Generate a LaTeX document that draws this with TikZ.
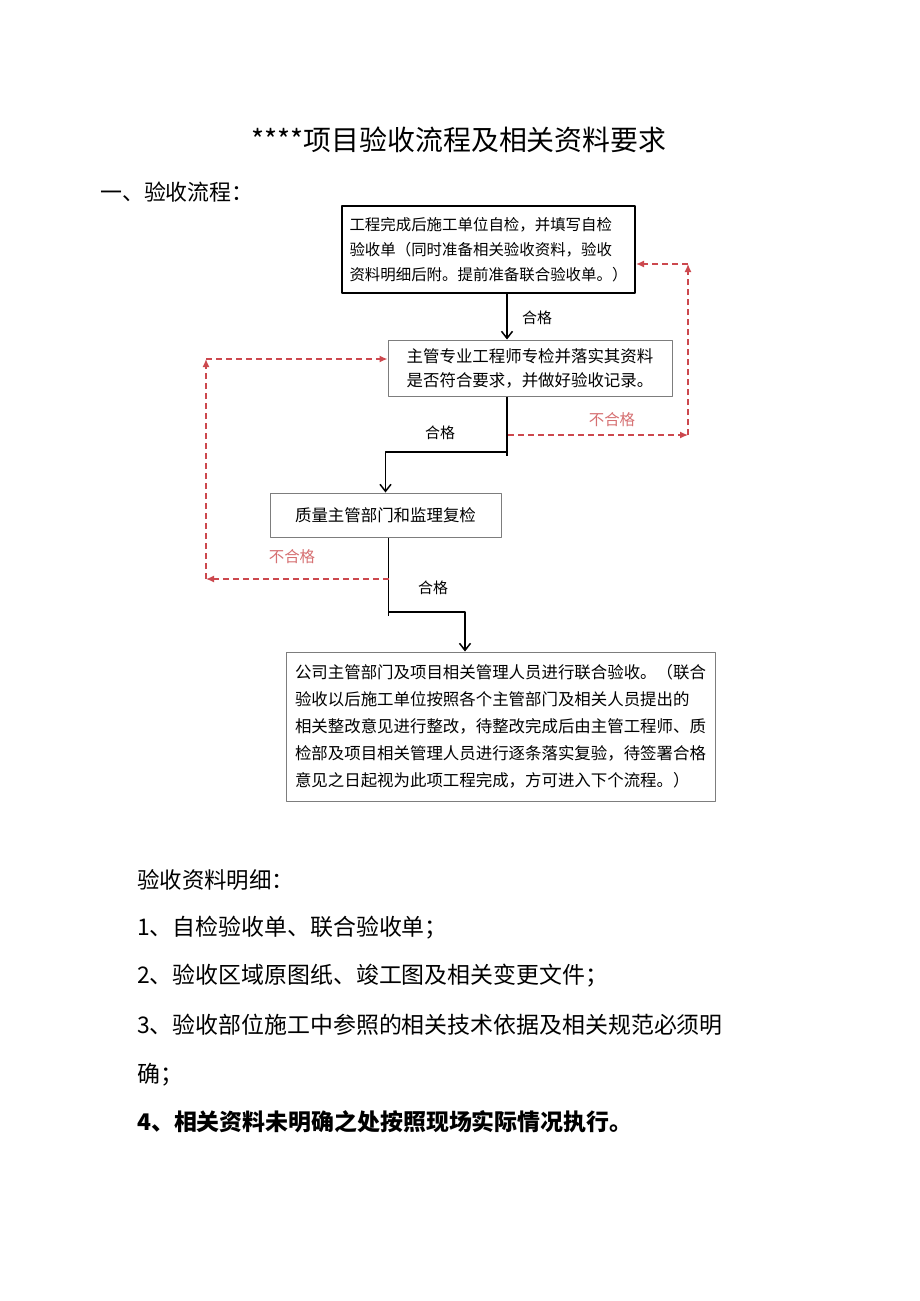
\documentclass[tikz,border=0pt]{standalone}
\usepackage{fontspec}
\setmainfont{Noto Sans CJK SC}
\usetikzlibrary{arrows.meta}
\definecolor{failred}{RGB}{204,72,78}
\definecolor{failtext}{RGB}{214,112,114}
\definecolor{boxgray}{RGB}{125,125,125}
\tikzset{
  stepbox/.style={draw=boxgray,line width=1bp,inner sep=0pt,align=left},
  passline/.style={black,line width=1.5bp},
  failline/.style={failred,line width=1.4bp,dash pattern=on 6bp off 4bp,-{Latex[length=8bp,width=7bp]}},
  passlabel/.style={font=\fontsize{15}{18}\selectfont},
  faillabel/.style={text=failtext,font=\fontsize{15.5}{18}\selectfont},
  listline/.style={anchor=west,inner sep=0pt,font=\fontsize{23}{26}\selectfont},
}
\begin{document}
\begin{tikzpicture}[>={Straight Barb[length=7bp,width=11bp]},line join=bevel,]
\useasboundingbox[fill=white] (0bp,0bp) rectangle (920bp,-1301bp);
%%
\node (title) at (459.0bp,-140.0bp) [font=\fontsize{28}{30}\selectfont] {****项目验收流程及相关资料要求};
\node (head_1) at (100.0bp,-192.0bp) [anchor=west,inner sep=0pt,font=\fontsize{22}{26}\selectfont] {一、验收流程：};
%
\node (node_1) at (488.5bp,-249.5bp) [stepbox,draw=black,line width=2bp,minimum width=293bp,minimum height=87bp,font=\fontsize{15.5}{25}\selectfont] {工程完成后施工单位自检，并填写自检\\验收单（同时准备相关验收资料，验收\\资料明细后附。提前准备联合验收单。）};
\node (node_2) at (530.0bp,-368.0bp) [stepbox,minimum width=284bp,minimum height=56bp,font=\fontsize{16.5}{24}\selectfont] {主管专业工程师专检并落实其资料\\是否符合要求，并做好验收记录。};
\node (node_3) at (385.5bp,-515.0bp) [stepbox,minimum width=231bp,minimum height=44bp,font=\fontsize{16.5}{20}\selectfont] {质量主管部门和监理复检};
\node (node_4) at (500.5bp,-726.5bp) [stepbox,minimum width=429bp,minimum height=149bp,font=\fontsize{16.5}{27}\selectfont] {公司主管部门及项目相关管理人员进行联合验收。（联合\\验收以后施工单位按照各个主管部门及相关人员提出的\\相关整改意见进行整改，待整改完成后由主管工程师、质\\检部及项目相关管理人员进行逐条落实复验，待签署合格\\意见之日起视为此项工程完成，方可进入下个流程。）};
%
\coordinate (x_main) at (507.0bp,0bp);
\coordinate (turn_1) at (507.0bp,-452.0bp);
\coordinate (x_low) at (388.5bp,0bp);
\coordinate (turn_2) at (388.5bp,-612.0bp);
\coordinate (x_end) at (465.0bp,0bp);
\coordinate (fail_r1) at (508.0bp,-435.0bp);
\coordinate (fail_r2) at (688.0bp,-435.0bp);
\coordinate (fail_r3) at (688.0bp,-264.0bp);
\coordinate (fail_l1) at (388.5bp,-579.0bp);
\coordinate (fail_l2) at (206.0bp,-579.0bp);
\coordinate (fail_l3) at (206.0bp,-359.0bp);
%
\draw [passline,->] (node_1.south -| x_main) -- (node_2.north -| x_main);
\draw [passline] (node_2.south -| x_main) -- ([yshift=-4bp]turn_1);
\draw [passline,->] (turn_1) -| (node_3.north);
\draw [passline] (node_3.south -| x_low) -- ([yshift=-4bp]turn_2);
\draw [passline,->] (turn_2) -| (node_4.north -| x_end);
%
\draw [failline] (fail_r1) -- (fail_r2);
\draw [failline] (fail_r2) -- (fail_r3);
\draw [failline] (fail_r3) -- (node_1.east |- fail_r3);
\draw [failline] (fail_l1) -- (fail_l2);
\draw [failline] (fail_l2) -- (fail_l3);
\draw [failline] (fail_l3) -- (node_2.west |- fail_l3);
%
\node (pass_1) at (537.0bp,-318.0bp) [passlabel] {合格};
\node (pass_2) at (440.0bp,-433.0bp) [passlabel] {合格};
\node (pass_3) at (433.0bp,-588.0bp) [passlabel] {合格};
\node (fail_1) at (612.0bp,-420.0bp) [faillabel] {不合格};
\node (fail_2) at (292.0bp,-557.0bp) [faillabel] {不合格};
%
\node (list_0) at (137.0bp,-880.0bp) [listline,font=\fontsize{22.5}{26}\selectfont] {验收资料明细：};
\node (list_1) at (137.0bp,-928.0bp) [listline] {1、自检验收单、联合验收单；};
\node (list_2) at (137.0bp,-976.0bp) [listline] {2、验收区域原图纸、竣工图及相关变更文件；};
\node (list_3) at (137.0bp,-1025.0bp) [listline] {3、验收部位施工中参照的相关技术依据及相关规范必须明};
\node (list_3b) at (137.0bp,-1075.0bp) [listline] {确；};
\node (list_4) at (137.0bp,-1122.0bp) [listline,font=\fontsize{23}{26}\selectfont\bfseries] {4、相关资料未明确之处按照现场实际情况执行。};
%
\end{tikzpicture}
\end{document}
